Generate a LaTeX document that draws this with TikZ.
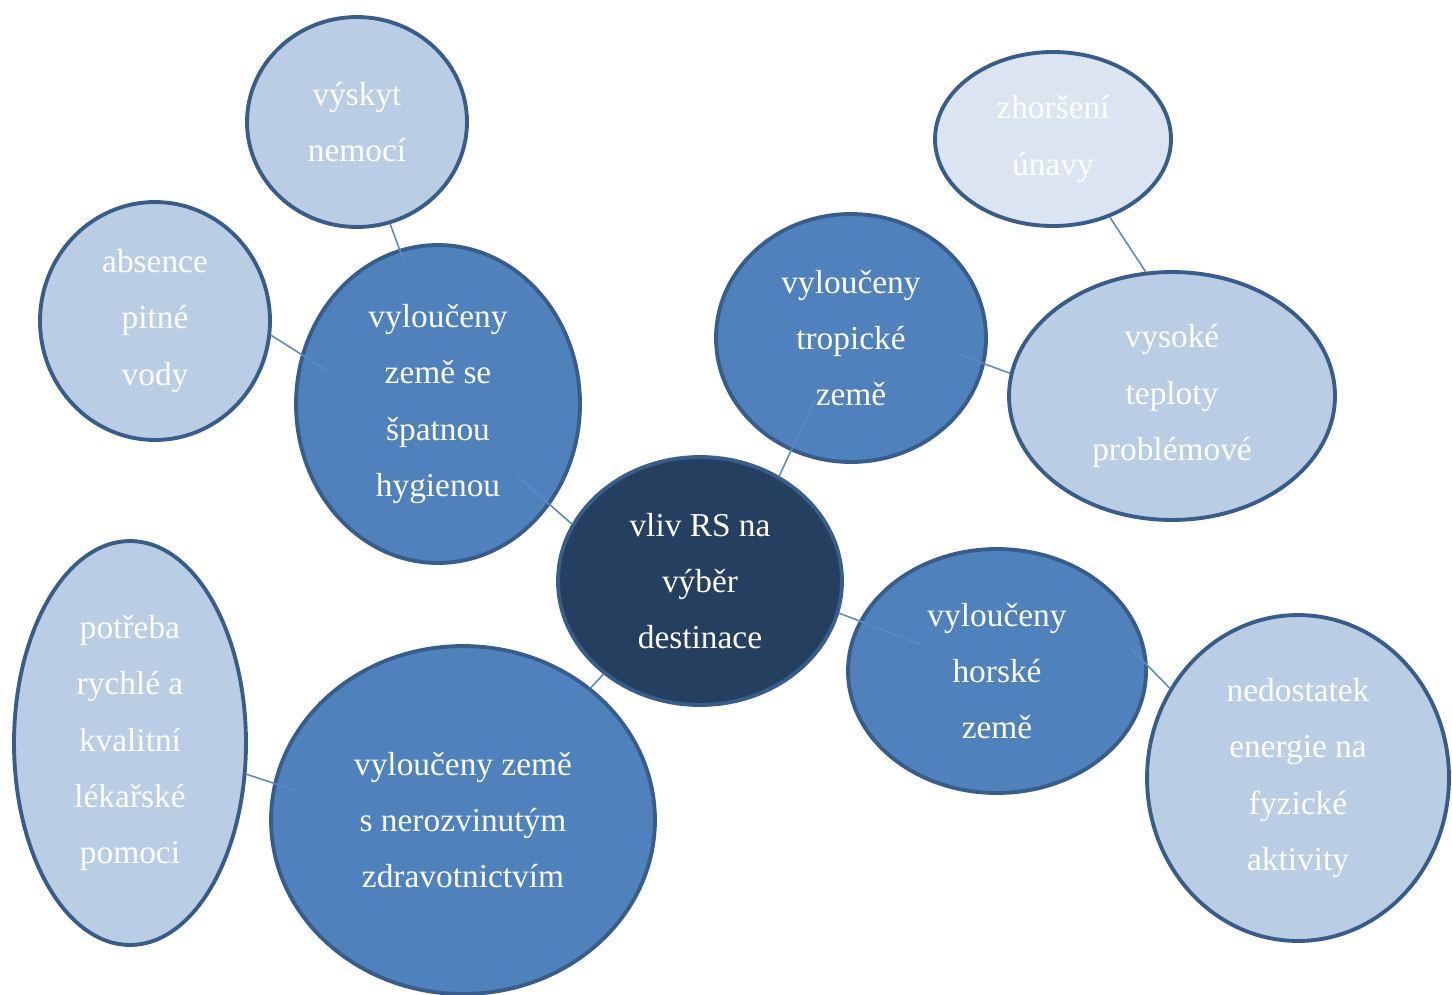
\documentclass[tikz,border=0pt]{standalone}
\usepackage{fontspec}
\setmainfont{Liberation Serif}
\usetikzlibrary{shapes.geometric}
\definecolor{rsdark}{HTML}{243F60}
\definecolor{rsmid}{HTML}{4F81BD}
\definecolor{rslight}{HTML}{B9CDE5}
\definecolor{rspale}{HTML}{DBE5F1}
\definecolor{rsborder}{HTML}{385D8A}
\definecolor{rslink}{HTML}{5A8AC6}
\begin{document}
\begin{tikzpicture}[x=0.02cm,y=-0.02cm,
    every node/.style={ellipse,draw=rsborder,line width=2.2pt,inner sep=0pt,
        align=center,text=white,font=\fontsize{19}{32}\selectfont},
    hub/.style={fill=rsdark},
    branch/.style={fill=rsmid},
    leaf/.style={fill=rslight},
    faint/.style={fill=rspale},
    link/.style={draw=rslink,line width=0.9pt}]
    \useasboundingbox (0,0) rectangle (1452,994);

    \node[hub,minimum width=5.68cm,minimum height=4.96cm] (vliv) at (700,581) {vliv RS na\\výběr\\destinace};

    \node[branch,minimum width=5.68cm,minimum height=6.36cm] (hygiena) at (438,404) {vyloučeny\\země se\\špatnou\\hygienou};
    \node[branch,minimum width=5.40cm,minimum height=4.96cm] (tropy) at (851,338) {vyloučeny\\tropické\\země};
    \node[branch,minimum width=5.96cm,minimum height=4.88cm] (hory) at (997,671) {vyloučeny\\horské\\země};
    \node[branch,minimum width=7.68cm,minimum height=6.96cm] (zdravi) at (463,820) {vyloučeny země\\s nerozvinutým\\zdravotnictvím};

    \node[leaf,minimum width=4.40cm,minimum height=4.20cm] (vyskyt) at (357,122) {výskyt\\nemocí};
    \node[leaf,minimum width=4.60cm,minimum height=4.76cm] (absence) at (155,321) {absence\\pitné\\vody};
    \node[leaf,minimum width=6.52cm,minimum height=4.96cm] (teploty) at (1172,396) {vysoké\\teploty\\problémové};
    \node[faint,minimum width=4.72cm,minimum height=3.48cm] (unava) at (1053,139) {zhoršení\\únavy};
    \node[leaf,minimum width=6.04cm,minimum height=6.52cm] (energie) at (1298,778) {nedostatek\\energie na\\fyzické\\aktivity};
    \node[leaf,minimum width=4.64cm,minimum height=8.08cm] (pomoc) at (130,743) {potřeba\\rychlé a\\kvalitní\\lékařské\\pomoci};

    \draw[link,shorten >=-7pt] (vyskyt.-72) -- (hygiena.104);
    \draw[link,shorten >=-19pt] (absence.-7) -- (hygiena.160);
    \draw[link,shorten <=-25pt] (hygiena.-42) -- (vliv.156);
    \draw[link,shorten >=-33pt] (vliv.53) -- (tropy.242);
    \draw[link,shorten <=-17pt] (tropy.-11) -- (teploty.172);
    \draw[link] (unava.-54) -- (teploty.102);
    \draw[link,shorten >=-39pt] (vliv.-13) -- (hory.160);
    \draw[link,shorten <=-14pt] (hory.2) -- (energie.145);
    \draw[link] (vliv.224) -- (zdravi.46);
    \draw[link,shorten >=-13pt] (pomoc.-15) -- (zdravi.169);
\end{tikzpicture}
\end{document}
